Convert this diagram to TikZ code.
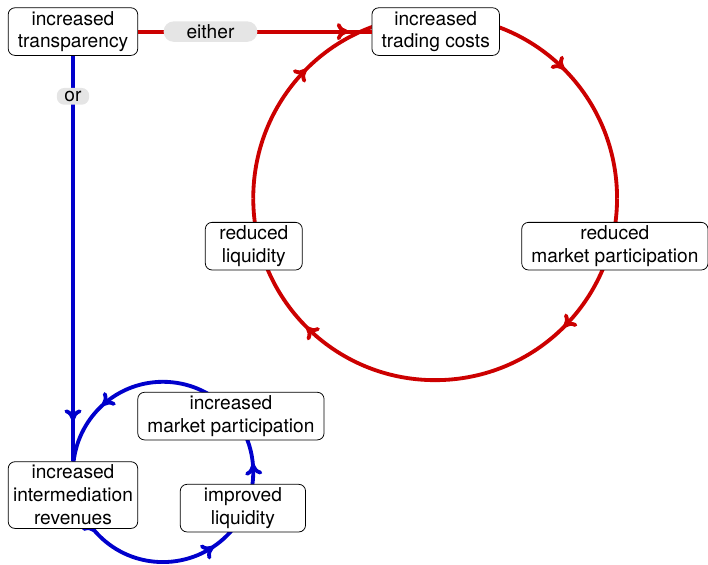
\documentclass[tikz,border=0pt]{standalone}
\usepackage{fontspec}
\setmainfont{TeX Gyre Heros}
\usepackage{tikz}
\usetikzlibrary{decorations.markings,arrows.meta}
\tikzset{
  box/.style={draw, rounded corners=3.5pt, fill=white, align=center,
    inner xsep=5pt, inner ysep=1.7pt, font=\fontsize{10}{12}\selectfont},
  pill/.style={fill=gray!20, text=black, rounded corners=3.9pt,
    inner xsep=4pt, inner ysep=1.6pt},
  redline/.style={red!80!black, line width=2pt},
  blueline/.style={blue!80!black, line width=2pt},
  flow/.style={postaction={decorate}, decoration={markings,
    mark=at position #1 with {\arrow{To[length=6pt, width=9pt]}}}},
  flow/.default=0.5
}

\begin{document}
\begin{tikzpicture}

    \useasboundingbox (0,0) rectangle (13,-10.374);

    % Points where the quarter arcs meet
    \coordinate (rtop)   at (7.99,-0.29);
    \coordinate (rright) at (11.33,-3.64);
    \coordinate (rbot)   at (7.99,-6.98);
    \coordinate (rleft)  at (4.65,-3.64);
    \coordinate (btop)   at (2.99,-7.01);
    \coordinate (bright) at (4.65,-8.67);
    \coordinate (bbot)   at (2.99,-10.32);
    \coordinate (bleft)  at (1.34,-8.67);

    % Red circle: clockwise
    \draw[redline, flow] (rtop) to[out=0,in=90] (rright);
    \draw[redline, flow] (rright) to[out=-90,in=0] (rbot);
    \draw[redline, flow] (rbot) to[out=180,in=-90] (rleft);
    \draw[redline, flow] (rleft) to[out=90,in=180] (rtop);

    % Blue circle: counterclockwise
    \draw[blueline, flow=0.46] (bleft) to[out=-90,in=180] (bbot);
    \draw[blueline, flow=0.38] (bbot) to[out=0,in=-90] (bright);
    \draw[blueline, flow=0.06] (bright) to[out=90,in=0] (btop);
    \draw[blueline, flow=0.47] (btop) to[out=180,in=90] (bleft);

    % Nodes
    \node[box] (trans) at (1.34,-0.58) {increased\\transparency};
    \node[box] (tc) at (8.0,-0.58) {increased\\trading costs};
    \node[box, minimum width=1.78cm] (rl) at (4.66,-4.52) {reduced\\liquidity};
    \node[box] (rmp) at (11.29,-4.52) {reduced\\market participation};
    \node[box] (imp) at (4.24,-7.64) {increased\\market participation};
    \node[box, minimum width=2.3cm] (il) at (4.46,-9.33) {improved\\liquidity};
    \node[box, inner xsep=2.5pt] (rev) at (1.34,-9.09) {increased\\intermediation\\revenues};

    % Connectors: either & or
    \draw[redline, flow=0.9] (trans) -- node[pill, pos=0.31,
      inner xsep=12pt, rounded corners=5.2pt] {either} (tc);
    \draw[blueline, flow=0.9] (trans) -- node[pill, pos=0.1] {or} (rev);

\end{tikzpicture}
\end{document}
